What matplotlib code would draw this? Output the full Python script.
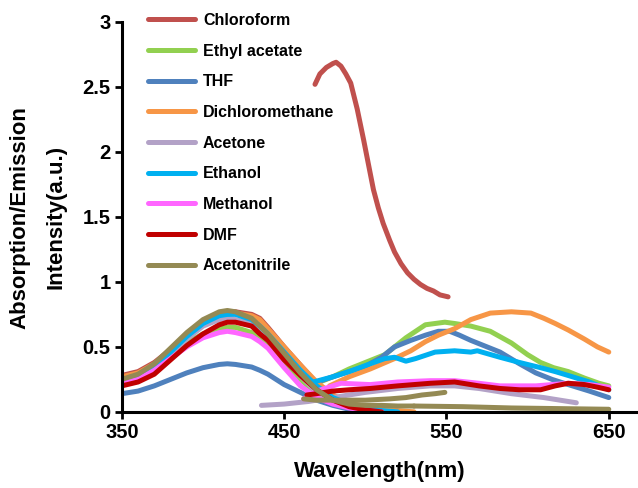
import numpy as np
import matplotlib.pyplot as plt

nan = np.nan

# Solvent names and line colours
solvents = ['Chloroform', 'Ethyl acetate', 'THF', 'Dichloromethane', 'Acetone',
            'Ethanol', 'Methanol', 'DMF', 'Acetonitrile']
colors = ['#C0504D', '#92D050', '#4F81BD', '#F79646', '#B3A2C7',
          '#00B0F0', '#FF66FF', '#C00000', '#948A54']

# Absorption spectra (common wavelength grid, nan = not recorded)
abs_wl = [350, 360, 370, 380, 390, 400, 410, 415, 420, 430, 435, 440, 450,
          460, 470, 480, 490, 500, 510, 520, 530]
abs_chloroform = [0.28, 0.31, 0.38, 0.48, 0.60, 0.70, 0.76, 0.77, 0.77, 0.75, 0.72, 0.65, 0.50,
                  0.36, 0.22, 0.12, 0.06, 0.03, 0.01, nan, nan]
abs_ethyl_acetate = [0.23, 0.26, 0.33, 0.43, 0.53, 0.60, 0.64, 0.65, 0.65, 0.61, 0.57, 0.52, 0.38,
                     0.25, 0.14, 0.07, 0.03, 0.01, nan, nan, nan]
abs_thf = [0.14, 0.16, 0.20, 0.25, 0.30, 0.34, 0.365, 0.37, 0.365, 0.345, 0.32, 0.29, 0.21,
           0.15, 0.09, 0.05, 0.02, 0.01, nan, nan, nan]
abs_dcm = [0.27, 0.30, 0.37, 0.47, 0.59, 0.69, 0.75, 0.76, 0.76, 0.74, 0.71, 0.64, 0.50,
           0.36, 0.23, 0.13, 0.07, 0.04, 0.02, 0.01, 0.0]
abs_acetone = [0.24, 0.27, 0.34, 0.44, 0.56, 0.66, 0.71, 0.72, 0.71, 0.68, 0.64, 0.57, 0.42,
               0.28, 0.15, 0.08, 0.04, 0.02, nan, nan, nan]
abs_ethanol = [0.23, 0.27, 0.35, 0.46, 0.58, 0.68, 0.74, 0.75, 0.75, 0.71, 0.66, 0.60, 0.46,
               0.32, 0.20, 0.11, 0.06, 0.03, 0.01, 0.0, nan]
abs_methanol = [0.22, 0.25, 0.32, 0.41, 0.50, 0.57, 0.61, 0.62, 0.61, 0.58, 0.54, 0.49, 0.34,
                0.20, 0.11, 0.06, 0.03, 0.01, 0.0, nan, nan]
abs_dmf = [0.20, 0.23, 0.29, 0.40, 0.51, 0.60, 0.67, 0.69, 0.69, 0.66, 0.60, 0.55, 0.40,
           0.28, 0.17, 0.09, 0.04, 0.015, 0.0, nan, nan]
abs_acetonitrile = [0.25, 0.29, 0.37, 0.49, 0.61, 0.71, 0.77, 0.78, 0.77, 0.72, 0.66, 0.60, 0.45,
                    0.30, 0.17, 0.09, 0.06, 0.05, 0.05, 0.045, 0.045]
# acetonitrile baseline keeps going to the end of the scan
acn_tail_wl = [530, 560, 590, 620, 650]
acn_tail = [0.045, 0.04, 0.03, 0.025, 0.02]

# Emission spectra
em_chloroform_wl = [469, 472, 476, 480, 482, 485, 488, 491, 495, 499, 502, 505, 508, 511,
                    515, 518, 522, 526, 530, 534, 538, 542, 546, 551]
em_chloroform = [2.52, 2.60, 2.65, 2.68, 2.69, 2.66, 2.60, 2.53, 2.33, 2.09, 1.90, 1.71, 1.57, 1.45,
                 1.32, 1.23, 1.14, 1.07, 1.02, 0.98, 0.95, 0.93, 0.90, 0.885]
em_ethyl_acetate_wl = [470, 480, 490, 500, 512, 525, 537, 549, 555, 565, 577, 590, 600, 608,
                       616, 625, 635, 644, 650]
em_ethyl_acetate = [0.22, 0.27, 0.33, 0.38, 0.44, 0.57, 0.67, 0.69, 0.68, 0.66, 0.62, 0.53, 0.44, 0.38,
                    0.34, 0.31, 0.26, 0.22, 0.20]
em_thf_wl = [468, 480, 490, 500, 510, 518, 528, 537, 545, 552, 558, 565, 575, 583, 595, 605,
             615, 625, 638, 650]
em_thf = [0.22, 0.27, 0.31, 0.35, 0.42, 0.50, 0.55, 0.59, 0.62, 0.62, 0.59, 0.55, 0.50, 0.46, 0.37, 0.30,
          0.25, 0.21, 0.16, 0.11]
em_dcm_wl = [478, 490, 503, 518, 528, 537, 545, 555, 565, 577, 590, 602, 610, 617, 625, 635, 643, 650]
em_dcm = [0.20, 0.27, 0.33, 0.41, 0.47, 0.54, 0.59, 0.64, 0.71, 0.76, 0.77, 0.76, 0.72, 0.68, 0.63,
          0.56, 0.50, 0.46]
em_acetone_wl = [436, 450, 465, 480, 500, 520, 540, 555, 570, 590, 610, 630]
em_acetone = [0.05, 0.06, 0.08, 0.11, 0.15, 0.18, 0.20, 0.20, 0.18, 0.14, 0.11, 0.07]
em_ethanol_wl = [468, 480, 490, 503, 512, 518, 525, 531, 543, 555, 565, 569, 583, 595, 608,
                 617, 625, 638, 650]
em_ethanol = [0.23, 0.27, 0.31, 0.37, 0.41, 0.42, 0.39, 0.41, 0.46, 0.47, 0.46, 0.47, 0.42, 0.38, 0.34,
              0.31, 0.28, 0.23, 0.17]
em_methanol_wl = [462, 470, 485, 503, 520, 540, 555, 570, 583, 595, 605, 615, 625, 638, 650]
em_methanol = [0.10, 0.16, 0.22, 0.21, 0.23, 0.24, 0.24, 0.22, 0.20, 0.20, 0.20, 0.21, 0.22, 0.21, 0.19]
em_dmf_wl = [464, 470, 480, 490, 503, 520, 540, 555, 570, 583, 595, 608, 617, 625, 635, 643, 650]
em_dmf = [0.13, 0.14, 0.16, 0.17, 0.18, 0.20, 0.22, 0.23, 0.20, 0.18, 0.17, 0.17, 0.20, 0.22,
          0.21, 0.19, 0.17]
em_acetonitrile_wl = [462, 470, 485, 500, 515, 525, 535, 543, 549]
em_acetonitrile = [0.10, 0.09, 0.09, 0.09, 0.10, 0.11, 0.13, 0.14, 0.15]

abs_data = [abs_chloroform, abs_ethyl_acetate, abs_thf, abs_dcm, abs_acetone,
            abs_ethanol, abs_methanol, abs_dmf, abs_acetonitrile]
em_data = [(em_chloroform_wl, em_chloroform), (em_ethyl_acetate_wl, em_ethyl_acetate),
           (em_thf_wl, em_thf), (em_dcm_wl, em_dcm), (em_acetone_wl, em_acetone),
           (em_ethanol_wl, em_ethanol), (em_methanol_wl, em_methanol),
           (em_dmf_wl, em_dmf), (em_acetonitrile_wl, em_acetonitrile)]

plt.rcParams['font.family'] = ['Liberation Sans', 'DejaVu Sans']
plt.rcParams['font.weight'] = 'bold'

fig = plt.figure(figsize=(6.38, 4.88), dpi=100)
ax = fig.add_axes([0.191, 0.156, 0.809, 0.799])

lw = 3.6
for name, col, a, (ew, ev) in zip(solvents, colors, abs_data, em_data):
    ax.plot(abs_wl, a, color=col, lw=lw, solid_capstyle='round', label=name)
    if name == 'Acetonitrile':
        ax.plot(acn_tail_wl, acn_tail, color=col, lw=lw, solid_capstyle='round')
    ax.plot(ew, ev, color=col, lw=lw, solid_capstyle='round')

ax.set_xlim(350, 668)
ax.set_ylim(0, 3)
ax.set_xticks([350, 450, 550, 650])
ax.set_yticks([0, 0.5, 1, 1.5, 2, 2.5, 3])
ax.set_yticklabels(['0', '0.5', '1', '1.5', '2', '2.5', '3'])
ax.tick_params(width=2, length=5, labelsize=14.5, direction='out', pad=3)
for lab in ax.get_xticklabels() + ax.get_yticklabels():
    lab.set_fontweight('bold')

ax.spines['top'].set_visible(False)
ax.spines['right'].set_visible(False)
ax.spines['left'].set_linewidth(2.2)
ax.spines['bottom'].set_linewidth(2.2)
for sp in ax.spines.values():
    sp.set_clip_on(False)

ax.set_xlabel('Wavelength(nm)', fontsize=16, fontweight='bold', labelpad=14)
fig.text(0.031, 0.555, 'Absorption/Emission', rotation=90, fontsize=16,
         fontweight='bold', ha='center', va='center')
fig.text(0.088, 0.555, 'Intensity(a.u.)', rotation=90, fontsize=16,
         fontweight='bold', ha='center', va='center')

leg = ax.legend(loc='upper left', bbox_to_anchor=(148 / 638, 1 - 13 / 488),
                bbox_transform=fig.transFigure, frameon=False, fontsize=11.5,
                handlelength=2.94, handletextpad=0.5, labelspacing=0.98,
                borderpad=0, borderaxespad=0)
for t in leg.get_texts():
    t.set_fontweight('bold')

fig.savefig('out.png', dpi=100)
